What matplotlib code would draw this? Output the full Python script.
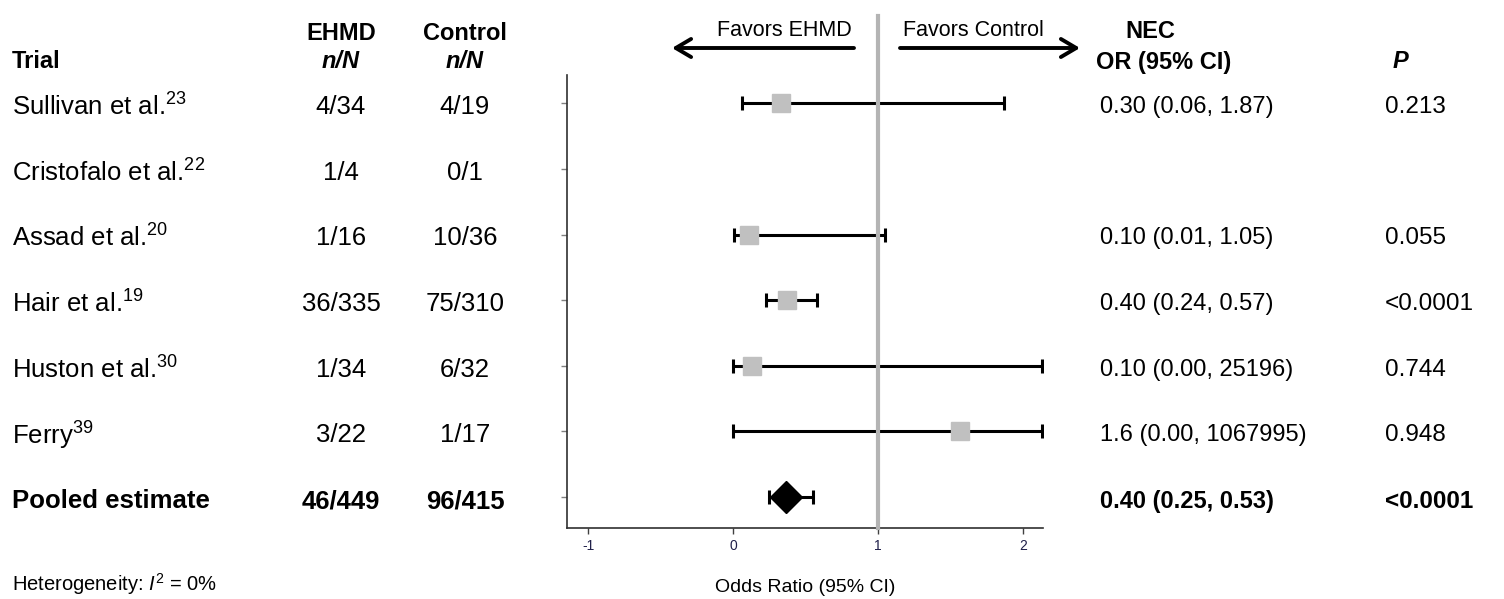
import numpy as np
import matplotlib
matplotlib.use('Agg')
import matplotlib.pyplot as plt
from matplotlib.transforms import blended_transform_factory
from matplotlib.patches import FancyArrowPatch

plt.rcParams['font.family'] = ['Liberation Sans', 'DejaVu Sans']
plt.rcParams['mathtext.fontset'] = 'custom'
plt.rcParams['mathtext.rm'] = 'Liberation Sans'
plt.rcParams['mathtext.it'] = 'Liberation Sans:italic'
plt.rcParams['mathtext.bf'] = 'Liberation Sans:bold'
plt.rcParams['axes.unicode_minus'] = False

# table data
trials = ['Sullivan et al.$^{23}$', 'Cristofalo et al.$^{22}$', 'Assad et al.$^{20}$',
          'Hair et al.$^{19}$', 'Huston et al.$^{30}$', 'Ferry$^{39}$', 'Pooled estimate']
ehmd = ['4/34', '1/4', '1/16', '36/335', '1/34', '3/22', '46/449']
control = ['4/19', '0/1', '10/36', '75/310', '6/32', '1/17', '96/415']
or_ci = ['0.30 (0.06, 1.87)', '', '0.10 (0.01, 1.05)', '0.40 (0.24, 0.57)',
         '0.10 (0.00, 25196)', '1.6 (0.00, 1067995)', '0.40 (0.25, 0.53)']
p_vals = ['0.213', '', '0.055', '<0.0001', '0.744', '0.948', '<0.0001']

# plotted estimates / CI (wide CIs clipped at the axis edge)
est = [0.33, np.nan, 0.11, 0.37, 0.13, 1.57, 0.365]
lo = [0.06, np.nan, 0.01, 0.23, 0.00, 0.00, 0.25]
hi = [1.87, np.nan, 1.05, 0.58, 2.13, 2.13, 0.55]

W, H = 1504, 599
fig = plt.figure(figsize=(W / 100, H / 100), dpi=100)


def fx(px):
    return px / W


def fy(py):
    return 1 - py / H


ax = fig.add_axes([fx(567), fy(528), (1043 - 567) / W, (528 - 75) / H])
n = len(trials)
rows = np.arange(n)

for i in range(n):
    if np.isnan(est[i]):
        continue
    ax.errorbar(est[i], i, xerr=[[est[i] - lo[i]], [hi[i] - est[i]]], fmt='none',
                ecolor='black', elinewidth=2.2, capsize=5, capthick=2.2, zorder=2)
    if i == n - 1:
        ax.plot(est[i], i, marker='D', ms=16, color='black', zorder=4)
    else:
        ax.plot(est[i], i, marker='s', ms=13, color='#c0c0c0', zorder=4)

# reference line at OR = 1, running up past the axes top
ref = blended_transform_factory(ax.transData, ax.transAxes)
ax.plot([1, 1], [0, (528 - 16) / (528 - 75)], color='#b4b4b4', lw=3,
        transform=ref, clip_on=False, zorder=3)

ax.set_xlim(-1.145, 2.14)
ax.set_ylim(n - 1 + 0.47, -0.43)
ax.set_xticks([-1, 0, 1, 2])
ax.set_yticks(rows)
ax.set_yticklabels([])
ax.tick_params(axis='x', length=4, width=1, color='#404040', labelsize=10,
               labelcolor='#20204a', pad=4)
ax.tick_params(axis='y', length=4, width=1, color='#808080')
for s in ['top', 'right']:
    ax.spines[s].set_visible(False)
for s in ['left', 'bottom']:
    ax.spines[s].set_color('#303030')
    ax.spines[s].set_linewidth(1.2)
ax.set_xlabel('Odds Ratio (95% CI)', fontsize=14, labelpad=19)

# table text
tr = blended_transform_factory(fig.transFigure, ax.transData)
fs_left = 18.5
fs_or = 17
fs_p = 17.5
hs = 17
x_or = 1100
x_p = 1385
for i in range(n):
    wt = 'bold' if i == n - 1 else 'normal'
    yy = i + 0.06
    fig.text(fx(12), yy, trials[i], transform=tr, fontsize=fs_left, weight=wt,
             ha='left', va='center')
    fig.text(fx(341), yy, ehmd[i], transform=tr, fontsize=fs_left, weight=wt,
             ha='center', va='center')
    fig.text(fx(465), yy, control[i], transform=tr, fontsize=fs_left, weight=wt,
             ha='center', va='center')
    fig.text(fx(x_or), yy, or_ci[i], transform=tr, fontsize=fs_or, weight=wt,
             ha='left', va='center')
    fig.text(fx(x_p), yy, p_vals[i], transform=tr, fontsize=fs_p, weight=wt,
             ha='left', va='center')

# headers
fig.text(fx(12), fy(62), 'Trial', fontsize=hs, weight='bold', ha='left', va='center')
fig.text(fx(341), fy(33), 'EHMD', fontsize=hs, weight='bold', ha='center', va='center')
fig.text(fx(341), fy(62), 'n/N', fontsize=hs, weight='bold', style='italic',
         ha='center', va='center')
fig.text(fx(465), fy(33), 'Control', fontsize=hs, weight='bold', ha='center', va='center')
fig.text(fx(465), fy(62), 'n/N', fontsize=hs, weight='bold', style='italic',
         ha='center', va='center')
fig.text(fx(1150), fy(31), 'NEC', fontsize=hs, weight='bold', ha='center', va='center')
fig.text(fx(x_or - 4), fy(62), 'OR (95% CI)', fontsize=hs, weight='bold',
         ha='left', va='center')
fig.text(fx(x_p + 8), fy(62), 'P', fontsize=hs, weight='bold', style='italic',
         ha='left', va='center')

# favours arrows
fig.text(fx(852), fy(31), 'Favors EHMD', fontsize=15.5, ha='right', va='center')
fig.text(fx(903), fy(31), 'Favors Control', fontsize=15.5, ha='left', va='center')
for x0, x1 in [(854, 672), (900, 1080)]:
    fig.add_artist(FancyArrowPatch((fx(x0), fy(48)), (fx(x1), fy(48)),
                                   transform=fig.transFigure,
                                   arrowstyle='->,head_length=11,head_width=6.5',
                                   lw=2.8, color='black', shrinkA=0, shrinkB=0))

fig.text(fx(12), fy(584), 'Heterogeneity: $I^{2}$ = 0%', fontsize=14.5,
         ha='left', va='center')

fig.savefig('out.png', dpi=100)
